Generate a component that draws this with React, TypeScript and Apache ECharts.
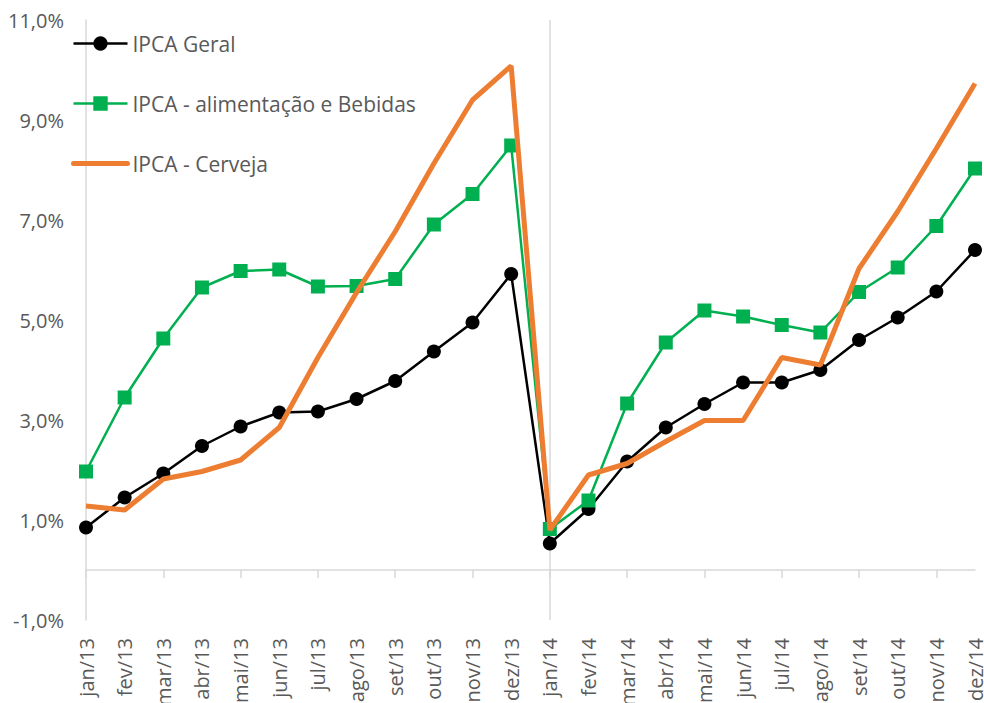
import React, { useEffect, useRef } from "react";
import * as echarts from "echarts";

const categories = [
  "jan/13", "fev/13", "mar/13", "abr/13", "mai/13", "jun/13", "jul/13", "ago/13", "set/13", "out/13", "nov/13", "dez/13",
  "jan/14", "fev/14", "mar/14", "abr/14", "mai/14", "jun/14", "jul/14", "ago/14", "set/14", "out/14", "nov/14", "dez/14",
];

const ipcaGeral = [
  0.85, 1.45, 1.93, 2.48, 2.87, 3.15, 3.17, 3.42, 3.78, 4.37, 4.95, 5.92,
  0.53, 1.22, 2.17, 2.85, 3.32, 3.75, 3.75, 4.0, 4.6, 5.05, 5.57, 6.4,
];

const ipcaAlimentacao = [
  1.97, 3.45, 4.63, 5.65, 5.98, 6.01, 5.67, 5.68, 5.82, 6.91, 7.52, 8.49,
  0.82, 1.39, 3.33, 4.55, 5.19, 5.07, 4.9, 4.75, 5.56, 6.05, 6.88, 8.03,
];

const ipcaCerveja = [
  1.28, 1.2, 1.82, 1.97, 2.2, 2.85, 4.25, 5.55, 6.77, 8.13, 9.4, 10.08,
  0.8, 1.9, 2.13, 2.57, 2.99, 2.99, 4.25, 4.1, 6.03, 7.17, 8.43, 9.73,
];

const seriesNames = ["IPCA Geral", "IPCA - alimentação e Bebidas", "IPCA - Cerveja"];

const FONT = "Open Sans";
const TEXT = "#595959";
const AXIS = "#d9d9d9";

export default function App() {
  const ref = useRef<HTMLDivElement>(null);
  useEffect(() => {
    if (!ref.current) return;
    const chart = echarts.init(ref.current, undefined, { renderer: "svg" });
    chart.setOption({
      animation: false,
      backgroundColor: "#ffffff",
      grid: { left: 86, right: 9, top: 20, bottom: 83, containLabel: false, outerBoundsMode: "none" },
      legend: {
        orient: "vertical",
        left: 66,
        top: 28,
        itemWidth: 54,
        itemHeight: 18,
        itemGap: 39,
        textStyle: { color: TEXT, fontSize: 21, fontFamily: FONT },
        data: [
          { name: seriesNames[0], lineStyle: { width: 2.5 } },
          { name: seriesNames[1], lineStyle: { width: 2.5 } },
          { name: seriesNames[2], lineStyle: { width: 5, cap: "round" }, itemStyle: { opacity: 0 } },
        ],
      },
      xAxis: [
        {
          type: "category",
          data: categories,
          boundaryGap: false,
          axisLine: { onZero: true, lineStyle: { color: AXIS, width: 1.5 } },
          axisTick: { show: true, alignWithLabel: true, length: 8, lineStyle: { color: AXIS, width: 1.5 } },
          axisLabel: { show: false },
          splitLine: { show: false },
        },
        {
          type: "category",
          data: categories,
          boundaryGap: false,
          position: "bottom",
          axisLine: { show: false, onZero: false },
          axisTick: { show: false },
          axisLabel: {
            rotate: 90,
            margin: 18,
            color: TEXT,
            fontSize: 20,
            fontFamily: FONT,
            interval: 0,
          },
          splitLine: { show: false },
        },
      ],
      yAxis: {
        type: "value",
        min: -1,
        max: 11,
        interval: 2,
        axisLine: { show: true, lineStyle: { color: AXIS, width: 1.5 } },
        axisTick: { show: false },
        splitLine: { show: false },
        axisLabel: {
          margin: 22,
          color: TEXT,
          fontSize: 20,
          fontFamily: FONT,
          formatter: (v: number) => v.toFixed(1).replace(".", ",") + "%",
        },
      },
      series: [
        {
          name: seriesNames[0],
          type: "line",
          xAxisIndex: 0,
          data: ipcaGeral,
          symbol: "circle",
          symbolSize: 14,
          lineStyle: { color: "#000000", width: 2.5 },
          itemStyle: { color: "#000000" },
          z: 3,
          markLine: {
            silent: true,
            symbol: "none",
            label: { show: false },
            lineStyle: { color: AXIS, width: 1.5, type: "solid" },
            data: [{ xAxis: "jan/14" }],
            z: 1,
          },
        },
        {
          name: seriesNames[1],
          type: "line",
          xAxisIndex: 0,
          data: ipcaAlimentacao,
          symbol: "rect",
          symbolSize: 14,
          lineStyle: { color: "#00B050", width: 2.5 },
          itemStyle: { color: "#00B050" },
          z: 4,
        },
        {
          name: seriesNames[2],
          type: "line",
          xAxisIndex: 0,
          data: ipcaCerveja,
          symbol: "none",
          showSymbol: false,
          lineStyle: { color: "#ED7D31", width: 5 },
          itemStyle: { color: "#ED7D31" },
          z: 5,
        },
      ],
    });
    return () => chart.dispose();
  }, []);
  return <div ref={ref} style={{ width: 984, height: 703, position: "absolute", left: 0, top: 0 }} />;
}
